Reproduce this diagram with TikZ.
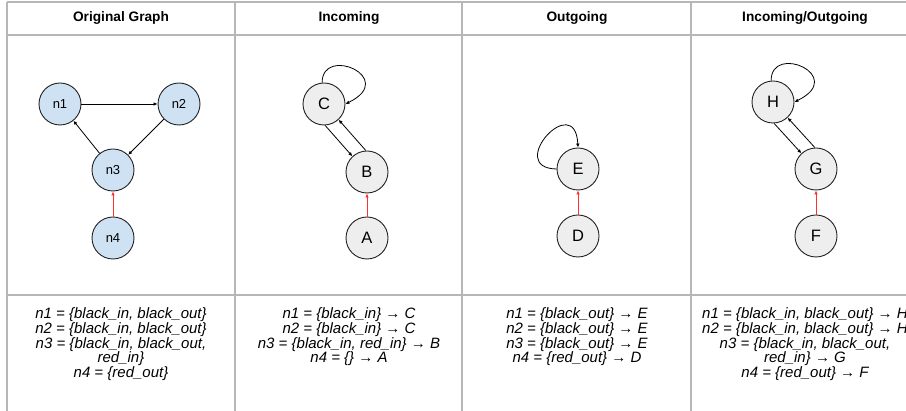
\documentclass[tikz,border=0pt]{standalone}
\usepackage{fontspec}
\setmainfont{Liberation Sans}
\usetikzlibrary{arrows.meta}
\definecolor{gridgray}{HTML}{B7B7B7}
\definecolor{nodeblue}{HTML}{CFE2F3}
\definecolor{nodegray}{HTML}{EEEEEE}
\definecolor{nodeline}{HTML}{222222}
\definecolor{edgered}{HTML}{FF3030}
\begin{document}
\begin{tikzpicture}[x=1pt,y=-1pt,
  gridline/.style={draw=gridgray, line width=1.1pt},
  gnode/.style={circle, draw=nodeline, line width=0.9pt, minimum size=42pt, inner sep=0pt},
  bluenode/.style={gnode, fill=nodeblue, font=\fontsize{13}{15}\selectfont},
  graynode/.style={gnode, fill=nodegray, font=\fontsize{16.5}{18}\selectfont},
  edge/.style={-{Latex[length=4pt,width=3.6pt]}, line width=0.8pt},
  rededge/.style={edge, draw=edgered, line width=1pt},
  header/.style={font=\bfseries\fontsize{13.7}{16}\selectfont},
  cell/.style={anchor=north, align=center, inner sep=0pt, font=\itshape\fontsize{15}{14.8}\selectfont}]
\useasboundingbox (0,0) rectangle (906,411);
\clip (0,0) rectangle (906,411);

% table rules
\draw[gridline] (7,2) -- (906,2);
\draw[gridline] (7,35) -- (906,35);
\draw[gridline] (7,295) -- (906,295);
\foreach \x in {7,235,462,691} \draw[gridline] (\x,2) -- (\x,411);

% column headers
\node[header] (h1) at (121,18) {Original Graph};
\node[header] (h2) at (349,18) {Incoming};
\node[header] (h3) at (577,18) {Outgoing};
\node[header] (h4) at (805,18) {Incoming/Outgoing};

% original graph
\node[bluenode] (n1) at (60,104) {n1};
\node[bluenode] (n2) at (179,104) {n2};
\node[bluenode] (n3) at (113,170) {n3};
\node[bluenode] (n4) at (113,238) {n4};
\draw[edge] (n1) -- (n2);
\draw[edge] (n2) -- (n3);
\draw[edge] (n3) -- (n1);
\draw[rededge] (n4) -- (n3);

% incoming
\node[graynode] (C) at (324,104) {C};
\node[graynode] (B) at (367,172) {B};
\node[graynode] (A) at (367,238) {A};
\draw[edge] (C.95) .. controls +(0,-38) and +(53,-26) .. (C.east);
\draw[edge] (C.-87) -- (B.133);
\draw[edge] (B.93) -- (C.-47);
\draw[rededge] (A) -- (B);

% outgoing
\node[graynode] (E) at (578,169) {E};
\node[graynode] (D) at (578,236) {D};
\draw[edge] (E.west) .. controls +(-52,-1) and +(-3,-58) .. (E.north);
\draw[rededge] (D) -- (E);

% incoming/outgoing
\node[graynode] (H) at (773,102) {H};
\node[graynode] (G) at (816,169) {G};
\node[graynode] (F) at (816,236) {F};
\draw[edge] (H.95) .. controls +(0,-38) and +(53,-26) .. (H.east);
\draw[edge] (H.-87) -- (G.133);
\draw[edge] (G.93) -- (H.-47);
\draw[rededge] (F) -- (G);

% label sets
\node[cell] (t1) at (121,307.5) {n1 = \{black\_in, black\_out\}\\
  n2 = \{black\_in, black\_out\}\\
  n3 = \{black\_in, black\_out,\\
  red\_in\}\\
  n4 = \{red\_out\}};
\node[cell] (t2) at (349,307.5) {n1 = \{black\_in\} → C\\
  n2 = \{black\_in\} → C\\
  n3 = \{black\_in, red\_in\} → B\\
  n4 = \{\} → A};
\node[cell] (t3) at (577,307.5) {n1 = \{black\_out\} → E\\
  n2 = \{black\_out\} → E\\
  n3 = \{black\_out\} → E\\
  n4 = \{red\_out\} → D};
\node[cell] (t4) at (805,307.5) {n1 = \{black\_in, black\_out\} → H\\
  n2 = \{black\_in, black\_out\} → H\\
  n3 = \{black\_in, black\_out,\\
  red\_in\} → G\\
  n4 = \{red\_out\} → F};
\end{tikzpicture}
\end{document}
